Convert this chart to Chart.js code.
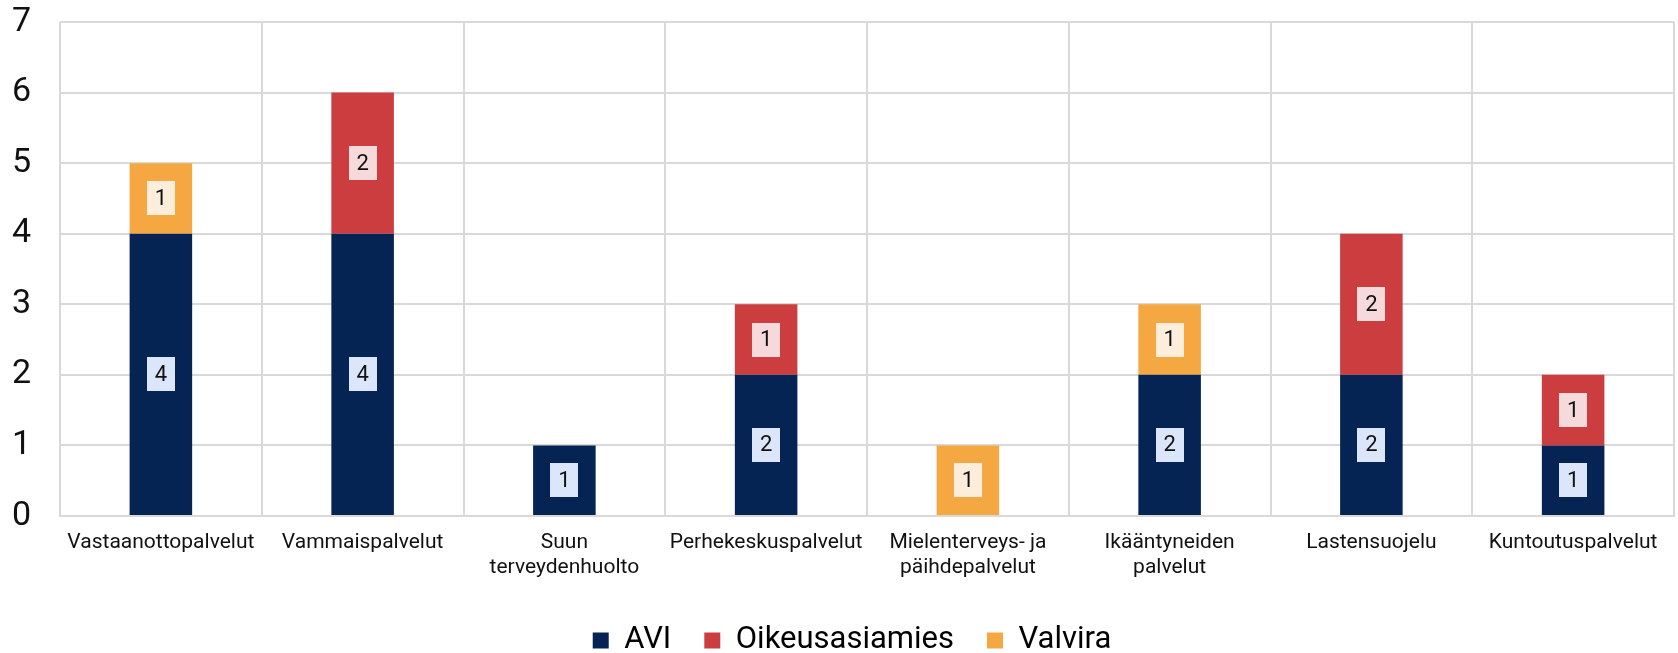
<!DOCTYPE html>
<html>
<head>
<meta charset="utf-8">
<script src="https://cdn.jsdelivr.net/npm/chart.js@4/dist/chart.umd.min.js"></script>
<style>
  html,body{margin:0;padding:0;background:#fff;}
  #wrap{width:1678px;height:653px;position:relative;}
</style>
</head>
<body>
<div id="wrap"><canvas id="kaavio"></canvas></div>
<script>
// palvelualueet
const palvelut=[
  "Vastaanottopalvelut",
  "Vammaispalvelut",
  ["Suun","terveydenhuolto"],
  "Perhekeskuspalvelut",
  ["Mielenterveys- ja","päihdepalvelut"],
  ["Ikääntyneiden","palvelut"],
  "Lastensuojelu",
  "Kuntoutuspalvelut"
];
const avi=[4,4,1,2,0,2,2,1];
const oikeusasiamies=[0,2,0,1,0,0,2,1];
const valvira=[1,0,0,0,1,1,0,0];
const yTicks=[0,1,2,3,4,5,6,7];

const sarjat=[
  {label:"AVI",data:avi,backgroundColor:"#052453",tausta:"#dbe6fa"},
  {label:"Oikeusasiamies",data:oikeusasiamies,backgroundColor:"#cc3d40",tausta:"#f6d9da"},
  {label:"Valvira",data:valvira,backgroundColor:"#f5a842",tausta:"#fdeedb"}
];

// numerot palkkien keskelle vaalealle laatikolle
const arvoLaatikot={
  id:"arvoLaatikot",
  afterDatasetsDraw(chart){
    const c=chart.ctx;
    c.save();
    c.font="22px Roboto";
    c.textAlign="center";
    c.textBaseline="middle";
    chart.data.datasets.forEach((ds,i)=>{
      const meta=chart.getDatasetMeta(i);
      meta.data.forEach((el,j)=>{
        const v=ds.data[j];
        if(!v) return;
        const p=el.getProps(["x","y","base"],true);
        const cy=(p.y+p.base)/2;
        const w=28,h=34;
        c.fillStyle=ds.tausta;
        c.fillRect(Math.round(p.x-w/2),Math.round(cy-h/2),w,h);
        c.fillStyle="#111";
        c.fillText(String(v),p.x,cy+1);
      });
    });
    c.restore();
  }
};

// selite kiinteän korkuiseksi alareunaan, hieman oikealle
const seliteKorkeus={
  id:"seliteKorkeus",
  beforeInit(chart){
    const lg=chart.legend;
    const fit=lg.fit;
    lg.fit=function(){
      fit.call(this);
      this.height=61;
    };
    const draw=lg.draw;
    lg.draw=function(area){
      const c=this.ctx;
      c.save();
      c.translate(15,0);
      draw.call(this,area);
      c.restore();
    };
  }
};

new Chart(document.getElementById("kaavio"),{
  type:"bar",
  data:{labels:palvelut,datasets:sarjat},
  options:{
    responsive:true,
    maintainAspectRatio:false,
    animation:false,
    layout:{padding:{top:22,right:4,left:0,bottom:0}},
    datasets:{bar:{barPercentage:0.31,categoryPercentage:1}},
    plugins:{
      legend:{
        position:"bottom",
        labels:{
          font:{family:"Roboto",size:31},
          color:"#000",
          boxWidth:16,
          boxHeight:16,
          padding:33
        }
      },
      tooltip:{enabled:false}
    },
    scales:{
      x:{
        stacked:true,
        grid:{color:"#d9d9d9",lineWidth:2,drawTicks:false},
        border:{color:"#d9d9d9",width:2},
        ticks:{font:{family:"Roboto",size:21,lineHeight:1.2},color:"#111",padding:14,maxRotation:0,autoSkip:false},
        afterFit:s=>{s.height=76;}
      },
      y:{
        stacked:true,
        min:0,max:7,
        afterBuildTicks:ax=>{ax.ticks=yTicks.map(v=>({value:v}));},
        grid:{color:"#d9d9d9",lineWidth:2,drawTicks:false},
        border:{display:false},
        ticks:{font:{family:"Roboto",size:34},color:"#111",padding:29},
        // tick-paddingin ei pidä kasvattaa yläreunan tilaa
        afterFit:s=>{s.width=60;s.paddingTop=0;s.paddingBottom=0;}
      }
    }
  },
  plugins:[arvoLaatikot,seliteKorkeus]
});
</script>
</body>
</html>
